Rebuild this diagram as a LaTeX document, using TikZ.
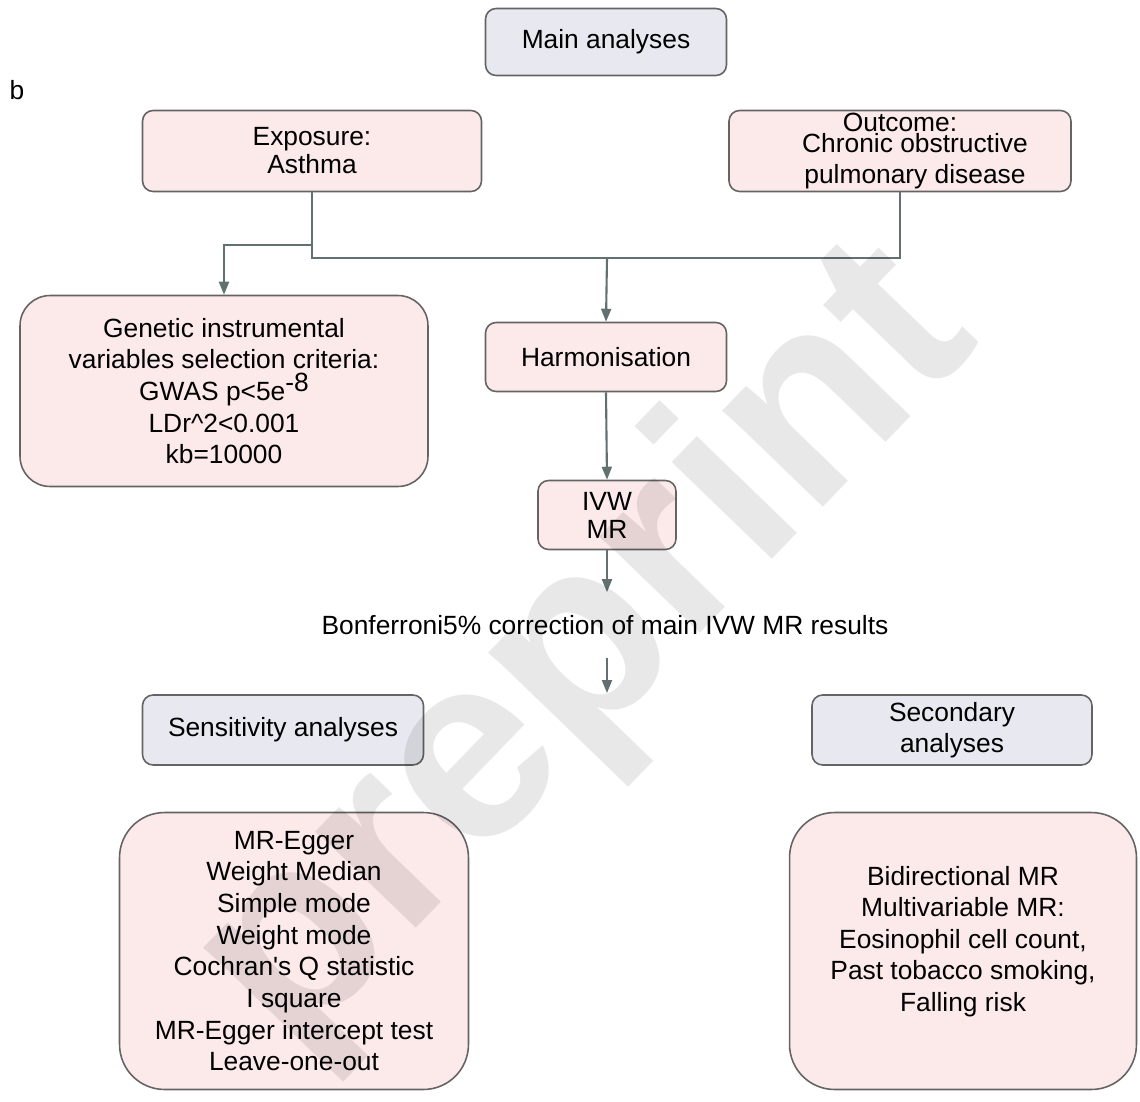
\documentclass[tikz,border=0pt]{standalone}
\usepackage{fontspec}
\setmainfont{Liberation Sans}
\usepackage{xcolor}
\usepackage{tikz}
\usetikzlibrary{arrows.meta, positioning}
\definecolor{boxpink}{RGB}{252,233,233}
\definecolor{boxgrey}{RGB}{232,232,240}
\definecolor{edgegrey}{RGB}{100,100,100}
\definecolor{linkgrey}{RGB}{98,112,114}

\begin{document}
\begin{tikzpicture}[x=0.02cm, y=-0.02cm,
    heading/.style={rectangle, rounded corners=6pt, draw=edgegrey, line width=0.9pt, fill=boxgrey, align=center, font=\fontsize{15}{17.5}\selectfont},
    stage/.style={rectangle, rounded corners=6pt, draw=edgegrey, line width=0.9pt, fill=boxpink, align=center, font=\fontsize{15}{18}\selectfont},
    link/.style={draw=linkgrey, line width=1.2pt},
    arrow/.style={link, -{Triangle[length=0.26cm, width=0.2cm]}}
]
\useasboundingbox (0,0) rectangle (1140,1102);

\node (main) at (606,42) [heading, minimum width=4.82cm, minimum height=1.34cm] {Main analyses};
\node (tag) at (17,90) [font=\fontsize{15}{17}\selectfont] {b};

\node (expo) at (312,151) [stage, minimum width=6.78cm, minimum height=1.62cm] {Exposure:\\[-2pt]Asthma};
\node (outc) at (900,151) [stage, inner ysep=0pt, minimum width=6.84cm, minimum height=1.62cm] {Outcome:\\[-6pt]\hspace*{0.6cm}Chronic obstructive\\\hspace*{0.6cm}pulmonary disease};

\node (gen) at (224,391) [stage, rounded corners=0.6cm, minimum width=8.16cm, minimum height=3.82cm] {Genetic instrumental\\variables selection criteria:\\GWAS p<5e\raisebox{5pt}{-8}\\LDr\textasciicircum 2<0.001\\kb=10000};
\node (harm) at (606,357) [stage, minimum width=4.82cm, minimum height=1.38cm] {Harmonisation};
\node (ivw) at (607,515) [stage, minimum width=2.76cm, minimum height=1.38cm] {IVW\\[-2pt]MR};
\node (bonf) at (605,625) [minimum height=1.3cm, font=\fontsize{15}{17}\selectfont] {Bonferroni5\% correction of main IVW MR results};

\node (sens) at (283,730) [heading, minimum width=5.62cm, minimum height=1.4cm] {Sensitivity analyses};
\node (sec) at (952,730) [heading, minimum width=5.6cm, minimum height=1.4cm] {Secondary\\analyses};

\node (senslist) at (294,951) [stage, rounded corners=0.9cm, minimum width=6.98cm, minimum height=5.54cm] {MR-Egger\\Weight Median\\Simple mode\\Weight mode\\Cochran\textquotesingle s Q statistic\\I square\\MR-Egger intercept test\\Leave-one-out};
\node (seclist) at (963,951) [stage, rounded corners=0.9cm, minimum width=6.94cm, minimum height=5.54cm] {Bidirectional MR\\Multivariable MR:\\Eosinophil cell count,\\Past tobacco smoking,\\Falling risk\\[-4pt]~};

\coordinate (fork) at (313,245);
\coordinate (junc) at (607,258);
\coordinate (gap) at (607,693);

\draw[link] (expo.south) -- ++(0,66) -| (outc.south);
\draw[arrow] (fork) -| (gen.north);
\draw[arrow] (junc) -- (harm.north);
\draw[arrow] (harm.south) -- (ivw.north);
\draw[arrow] (ivw.south) -- (bonf.north -| ivw.south);
\draw[arrow] (bonf.south -| gap) -- (gap);

\node (mark) at (588,652) [rotate=46, opacity=0.09, font=\fontsize{150}{150}\selectfont\bfseries] {preprint};
\end{tikzpicture}
\end{document}
